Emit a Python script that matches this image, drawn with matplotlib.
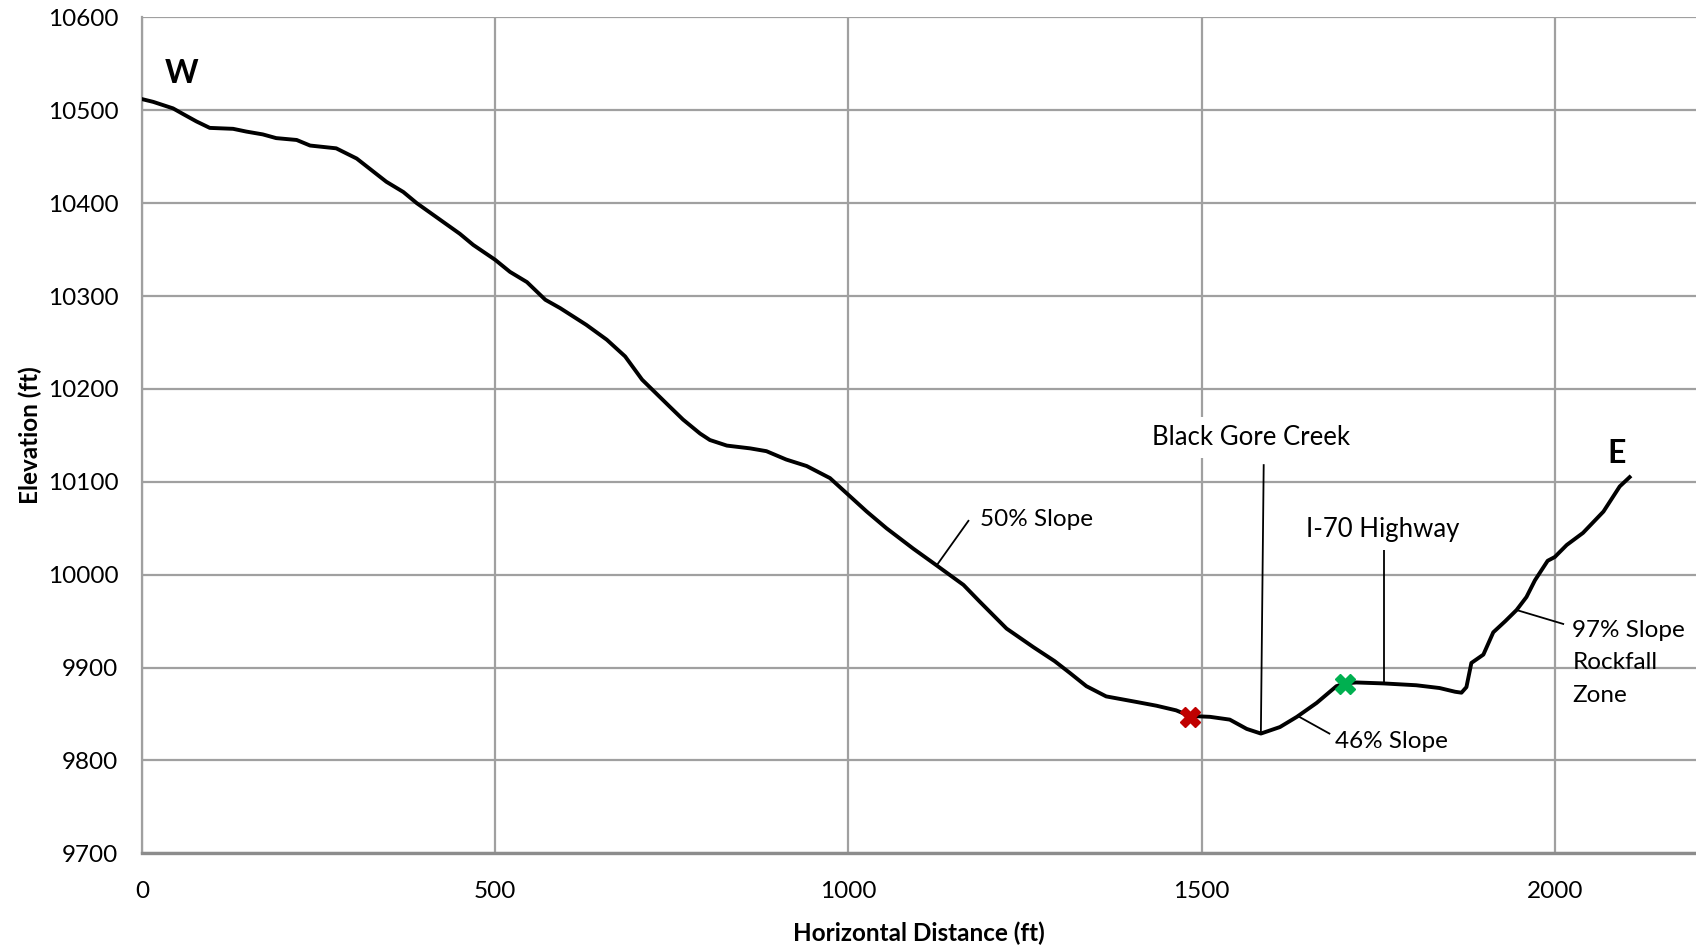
import matplotlib.pyplot as plt

# === data: elevation profile ===
distance_ft = [0, 16, 44, 58, 77, 96, 129, 148, 171, 190,
               219, 238, 275, 304, 346, 370, 389, 450, 469, 500,
               521, 545, 571, 592, 629, 658, 684, 708, 747, 766,
               790, 804, 828, 861, 884, 912, 941, 974, 1000, 1026,
               1054, 1092, 1125, 1163, 1186, 1224, 1262, 1292, 1314, 1337,
               1365, 1408, 1436, 1464, 1483, 1512, 1540, 1564, 1584, 1611,
               1635, 1663, 1691, 1703, 1719, 1757, 1804, 1837, 1859, 1868,
               1875, 1882, 1899, 1913, 1930, 1946, 1960, 1972, 1990, 2000,
               2017, 2040, 2069, 2092, 2106]
elevation_ft = [10512, 10509, 10502, 10496, 10488, 10481, 10480, 10477, 10474, 10470,
                10468, 10462, 10459, 10448, 10423, 10412, 10400, 10367, 10355, 10339,
                10326, 10315, 10296, 10287, 10269, 10253, 10235, 10210, 10181, 10167,
                10152, 10145, 10139, 10136, 10133, 10124, 10117, 10104, 10086, 10068,
                10050, 10028, 10010, 9989, 9971, 9942, 9922, 9907, 9894, 9880,
                9869, 9863, 9859, 9854, 9848, 9847, 9844, 9834, 9829, 9836,
                9847, 9862, 9880, 9883, 9884, 9883, 9881, 9878, 9874, 9873,
                9879, 9905, 9914, 9938, 9950, 9962, 9976, 9994, 10015, 10019,
                10032, 10045, 10068, 10095, 10105]

red_point = (1483, 9847)
green_point = (1703, 9882)

x_ticks = [0, 500, 1000, 1500, 2000]
y_ticks = list(range(9700, 10601, 100))

# annotations: (text, point on curve, leader end, text position)
notes = [
    ("50% Slope", (1125, 10010), (1170, 10058), (1186, 10059)),
    ("46% Slope", (1636, 9848), (1681, 9829), (1689, 9820)),
    ("97% Slope\nRockfall\nZone", (1946, 9962), (2012, 9947), (2025, 9905)),
]
creek = ("Black Gore Creek", (1584, 9829), (1588, 10118), (1570, 10148))
highway = ("I-70 Highway", (1758, 9883), (1758, 10027), (1757, 10049))

plt.rcParams['font.family'] = ['Lato', 'DejaVu Sans']

fig = plt.figure(figsize=(16.96, 9.48), dpi=100)
ax = fig.add_axes([0.0837, 0.0998, 0.9163, 0.8819])

grid_c = '#a0a0a0'
ax.set_xlim(0, 2200)
ax.set_ylim(9700, 10600)
ax.set_xticks(x_ticks)
ax.set_yticks(y_ticks)
ax.grid(True, color=grid_c, linewidth=1.6, zorder=0)
ax.set_axisbelow(True)
for s in ['top', 'right']:
    ax.spines[s].set_visible(False)
ax.spines['left'].set_color(grid_c)
ax.spines['left'].set_linewidth(1.6)
ax.spines['bottom'].set_color('#8c8c8c')
ax.spines['bottom'].set_linewidth(2.4)
ax.tick_params(length=0, labelsize=17.5)
ax.tick_params(axis='y', pad=17)
ax.tick_params(axis='x', pad=20)

ax.plot(distance_ft, elevation_ft, color='black', linewidth=2.8, zorder=3,
        solid_joinstyle='round')
ax.plot(*red_point, marker='X', color='#c00000', markersize=14, zorder=4)
ax.plot(*green_point, marker='X', color='#00b050', markersize=14, zorder=4)

for txt, p0, p1, tp in notes:
    ax.plot([p0[0], p1[0]], [p0[1], p1[1]], color='black', linewidth=1.3, zorder=3)
    ax.text(tp[0], tp[1], txt, ha='left', va='center', fontsize=17.5,
            linespacing=1.7, zorder=5)

for txt, p0, p1, tp in [creek, highway]:
    ax.plot([p0[0], p1[0]], [p0[1], p1[1]], color='black', linewidth=1.3, zorder=3)
    ax.text(tp[0], tp[1], txt, ha='center', va='center', fontsize=18.5, zorder=5,
            bbox=dict(facecolor='white', edgecolor='none', pad=6))

ax.text(56, 10540, "W", fontsize=23, fontweight='bold', ha='center', va='center')
ax.text(2087, 10130, "E", fontsize=23, fontweight='bold', ha='center', va='center')

ax.set_xlabel("Horizontal Distance (ft)", fontsize=17.5, fontweight='bold', labelpad=14)
ax.set_ylabel("Elevation (ft)", fontsize=17.5, fontweight='bold', labelpad=4)

fig.savefig("out.png", dpi=100)
